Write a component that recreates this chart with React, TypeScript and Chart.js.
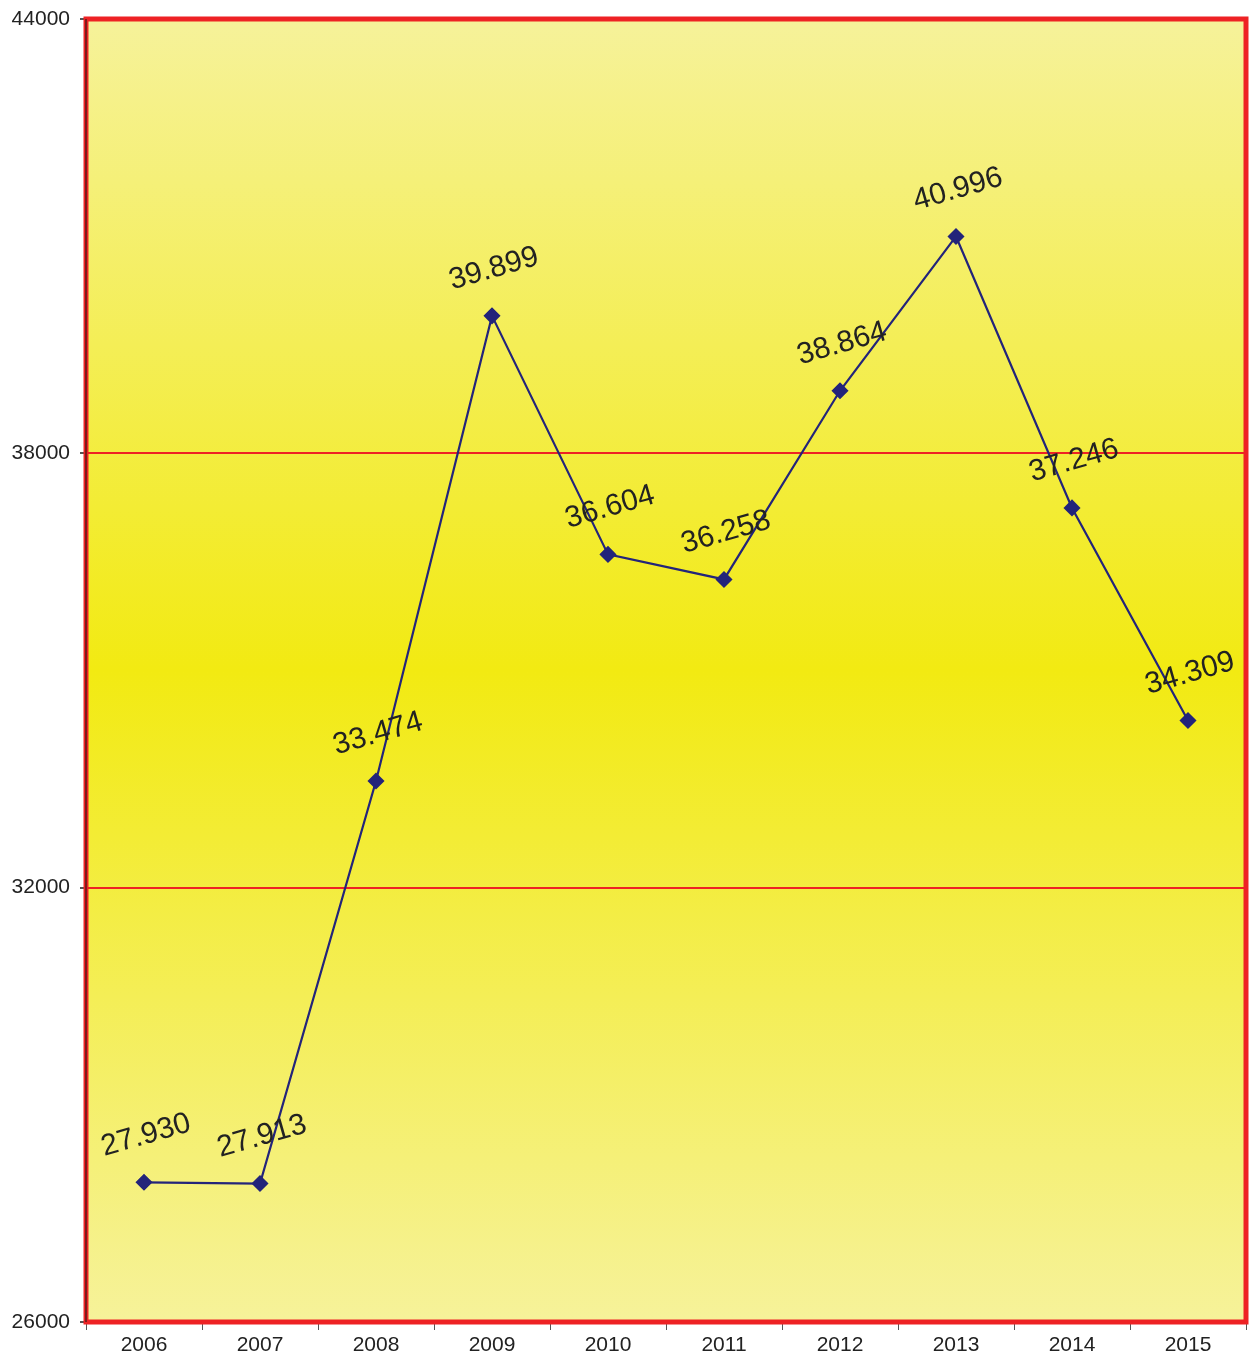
import React, { useEffect, useRef } from "react";
import { Chart, registerables } from "chart.js";

Chart.register(...registerables);

const years = ["2006", "2007", "2008", "2009", "2010", "2011", "2012", "2013", "2014", "2015"];
const values = [27930, 27913, 33474, 39899, 36604, 36258, 38864, 40996, 37246, 34309];
const valueLabels = ["27.930", "27.913", "33.474", "39.899", "36.604", "36.258", "38.864", "40.996", "37.246", "34.309"];
const yMin = 26000;
const yMax = 44000;
const yStep = 6000;

const bgPlugin = {
  id: "bgPlugin",
  beforeDraw(chart: any) {
    const { ctx, chartArea: a } = chart;
    const g = ctx.createLinearGradient(0, a.top, 0, a.bottom);
    g.addColorStop(0, "#F6F29A");
    g.addColorStop(0.5, "#F2EA12");
    g.addColorStop(1, "#F6F29A");
    ctx.save();
    ctx.fillStyle = g;
    ctx.fillRect(a.left, a.top, a.right - a.left, a.bottom - a.top);
    ctx.restore();
  },
  afterDraw(chart: any) {
    const { ctx, chartArea: a } = chart;
    ctx.save();
    ctx.strokeStyle = "#EE2224";
    ctx.lineWidth = 5;
    ctx.strokeRect(a.left, a.top, a.right - a.left, a.bottom - a.top);
    ctx.strokeStyle = "#5a1a1a";
    ctx.lineWidth = 1.5;
    ctx.beginPath();
    ctx.moveTo(a.left, a.top);
    ctx.lineTo(a.left, a.bottom);
    ctx.stroke();
    ctx.restore();
  },
};

const labelPlugin = {
  id: "labelPlugin",
  afterDatasetsDraw(chart: any) {
    const { ctx } = chart;
    const meta = chart.getDatasetMeta(0);
    ctx.save();
    ctx.fillStyle = "#222222";
    ctx.font = "30px 'Liberation Sans', Arial, sans-serif";
    ctx.textAlign = "center";
    ctx.textBaseline = "middle";
    meta.data.forEach((pt: any, i: number) => {
      ctx.save();
      ctx.translate(pt.x + 2, pt.y - 47);
      ctx.rotate((-16 * Math.PI) / 180);
      ctx.fillText(valueLabels[i], 0, 0);
      ctx.restore();
    });
    ctx.restore();
  },
};

export default function App() {
  const ref = useRef<HTMLCanvasElement | null>(null);
  useEffect(() => {
    if (!ref.current) return;
    const chart = new Chart(ref.current, {
      type: "line",
      data: {
        labels: years,
        datasets: [
          {
            data: values,
            borderColor: "#23247A",
            backgroundColor: "#23247A",
            borderWidth: 2.2,
            pointStyle: "rectRot",
            pointRadius: 7,
            pointHoverRadius: 7,
            tension: 0,
          },
        ],
      },
      options: {
        animation: false,
        responsive: false,
        maintainAspectRatio: false,
        layout: { autoPadding: false, padding: { top: 19, right: 3, left: 0, bottom: 0 } },
        plugins: { legend: { display: false }, tooltip: { enabled: false } },
        scales: {
          x: {
            offset: true,
            grid: {
              offset: true,
              drawOnChartArea: false,
              drawTicks: true,
              tickLength: 8,
              tickColor: "#555555",
            },
            border: { display: false },
            ticks: {
              color: "#222222",
              font: { size: 21, family: "'Liberation Sans', Arial, sans-serif" },
              padding: 3,
              maxRotation: 0,
            },
            afterFit(scale: any) {
              scale.height = 38;
              scale.paddingLeft = 0;
              scale.paddingRight = 0;
            },
          },
          y: {
            min: yMin,
            max: yMax,
            ticks: {
              stepSize: yStep,
              color: "#222222",
              font: { size: 21, family: "'Liberation Sans', Arial, sans-serif" },
              padding: 10,
              callback: (v: any) => String(v),
            },
            grid: {
              color: "#EE2224",
              lineWidth: 2,
              drawTicks: true,
              tickLength: 6,
              tickColor: "#555555",
            },
            border: { display: false },
            afterFit(scale: any) {
              scale.width = 86;
              scale.paddingTop = 0;
              scale.paddingBottom = 0;
            },
          },
        },
      },
      plugins: [bgPlugin, labelPlugin],
    });
    return () => chart.destroy();
  }, []);
  return (
    <div style={{ position: "fixed", left: 0, top: 0, width: 1249, height: 1360, background: "#fff" }}>
      <canvas ref={ref} width={1249} height={1360} style={{ width: 1249, height: 1360 }} />
    </div>
  );
}
